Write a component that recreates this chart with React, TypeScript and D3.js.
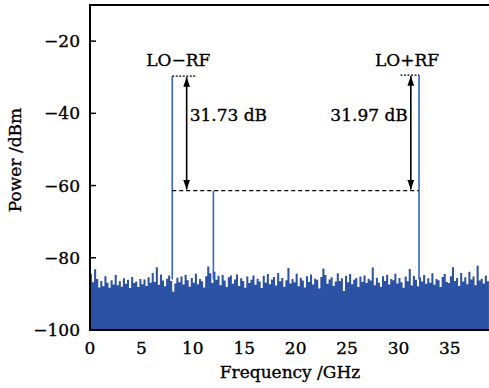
import React from 'react';
import * as d3 from 'd3';

// noise floor, one value every 0.2 GHz from 0 GHz
const noiseStep = 0.2;
const noise = [
  -84.5, -86.8, -83.2, -85.9, -88.2, -86.4, -87.9, -85.1, -86.9, -88.3, -86.2, -87.4, -84.8, -87.6, -86.5,
  -88.0, -85.7, -87.2, -86.1, -88.4, -85.3, -87.0, -86.6, -88.1, -85.9, -87.3, -86.0, -87.8, -85.4, -86.9,
  -84.2, -86.7, -82.6, -87.5, -84.6, -86.3, -87.9, -85.8, -84.9, -86.4, -89.4, -87.1, -85.5, -86.8, -85.2,
  -87.4, -84.7, -86.2, -88.0, -85.6, -86.9, -84.4, -87.3, -85.9, -86.5, -88.2, -85.1, -82.4, -84.3, -87.0,
  -83.9, -86.1, -85.0, -87.6, -84.8, -86.3, -88.1, -85.4, -84.9, -87.2, -86.0, -84.6, -87.8, -85.7, -86.4,
  -88.3, -85.2, -87.0, -86.1, -84.9, -87.5, -85.8, -86.6, -88.4, -85.0, -86.9, -84.5, -87.3, -86.0, -85.3,
  -87.7, -84.2, -86.5, -85.6, -88.0, -86.2, -82.8, -87.1, -85.9, -86.8, -84.4, -87.9, -85.5, -86.3, -88.2,
  -85.1, -86.7, -84.6, -87.4, -85.8, -86.1, -88.5, -85.3, -83.0, -84.8, -87.2, -86.0, -85.4, -87.8, -86.6,
  -84.3, -86.4, -85.7, -89.2, -85.0, -86.8, -84.5, -87.3, -86.1, -85.6, -88.1, -85.2, -86.7, -84.9, -87.0,
  -85.8, -86.3, -82.7, -87.6, -85.5, -86.9, -88.0, -85.1, -86.4, -84.7, -87.4, -85.9, -86.2, -84.4, -87.1,
  -85.6, -86.8, -88.3, -85.2, -86.5, -83.1, -87.7, -85.0, -86.1, -87.9, -85.4, -86.6, -84.8, -87.2, -85.7,
  -86.9, -84.3, -87.5, -85.9, -86.2, -88.1, -85.3, -84.5, -86.7, -87.0, -85.1, -82.6, -86.4, -85.6, -87.8,
  -84.2, -86.6, -85.4, -87.3, -83.9, -86.0, -85.2, -87.6, -82.2, -86.3, -85.8, -87.1, -84.9, -86.5, -85.5,
];

// spectral lines
const peakFreqs = [8, 12, 32];
const peakLevels = [-29.7, -61.4, -29.4];
const peakNames = ['LO\u2212RF', '', 'LO+RF'];

// level marks
const refLevel = -61.4;
const diffLabels = ['31.73 dB', '31.97 dB'];
const arrowFreqs = [9.4, 31.2];

const yTicks = [-20, -40, -60, -80, -100];
const xTicks = [0, 5, 10, 15, 20, 25, 30, 35];

const W = 489;
const H = 388;
const font = '"DejaVu Serif", serif';

export default function App() {
  const x = d3.scaleLinear().domain([0, 39]).range([90, 491]);
  const y = d3.scaleLinear().domain([-100, -10]).range([330, 5]);

  const pts = noise.map((v, i) => [i * noiseStep, v] as [number, number]);
  const area = d3
    .area<[number, number]>()
    .x(d => x(d[0]))
    .y0(y(-100))
    .y1(d => y(d[1]))
    .curve(d3.curveStepAfter);

  const blue = '#2c52a6';
  // slight outline so the serif text looks as heavy as the scan
  const txt = { fontFamily: font, stroke: '#000', strokeWidth: 0.35 };

  return (
    <svg width={W} height={H} style={{ position: 'absolute', left: 0, top: 0, background: '#fff' }}>
      <defs>
        <marker id="ah" viewBox="0 0 10 10" refX="10" refY="5" markerWidth="6" markerHeight="6" orient="auto-start-reverse">
          <path d="M0,1.5 L10,5 L0,8.5 z" fill="#000" />
        </marker>
      </defs>

      <path d={area(pts) || ''} fill={blue} />

      {peakFreqs.map((f, i) => (
        <line key={i} x1={x(f)} x2={x(f)} y1={y(-86)} y2={y(peakLevels[i])} stroke="#3565c8" strokeWidth={1.6} />
      ))}

      {/* dashed reference lines */}
      <line x1={x(peakFreqs[0])} x2={x(peakFreqs[2])} y1={y(refLevel)} y2={y(refLevel)} stroke="#000" strokeWidth={1.3} strokeDasharray="4,3" />
      <line x1={x(peakFreqs[0])} x2={x(10.4)} y1={y(peakLevels[0])} y2={y(peakLevels[0])} stroke="#000" strokeWidth={1.3} strokeDasharray="2,1.5" />
      <line x1={x(30.2)} x2={x(peakFreqs[2])} y1={y(peakLevels[2])} y2={y(peakLevels[2])} stroke="#000" strokeWidth={1.3} strokeDasharray="2,1.5" />

      {arrowFreqs.map((f, i) => (
        <line
          key={i}
          x1={x(f)}
          x2={x(f)}
          y1={y(i === 0 ? peakLevels[0] : peakLevels[2]) + 1}
          y2={y(refLevel) - 1}
          stroke="#000"
          strokeWidth={1.6}
          markerStart="url(#ah)"
          markerEnd="url(#ah)"
        />
      ))}

      <text x={x(arrowFreqs[0]) + 3} y={y(-42)} {...txt} fontSize={17} textAnchor="start">{diffLabels[0]}</text>
      <text x={x(arrowFreqs[1]) - 3} y={y(-42)} {...txt} fontSize={17} textAnchor="end">{diffLabels[1]}</text>

      {peakNames.map((n, i) => n ? (
        <text key={i} x={x(peakFreqs[i]) + (i === 0 ? 6 : -12)} y={66} {...txt} fontSize={17} textAnchor="middle">{n}</text>
      ) : null)}

      {/* axes */}
      <line x1={90} x2={90} y1={5} y2={331} stroke="#000" strokeWidth={2} />
      <line x1={89} x2={W} y1={330} y2={330} stroke="#000" strokeWidth={2} />
      <line x1={89} x2={W} y1={5} y2={5} stroke="#000" strokeWidth={2} />

      {yTicks.map(t => (
        <g key={t}>
          <line x1={90} x2={96} y1={y(t)} y2={y(t)} stroke="#000" strokeWidth={1.5} />
          <text x={80} y={y(t) + 6} {...txt} fontSize={17} textAnchor="end">{t < 0 ? '\u2212' + Math.abs(t) : t}</text>
        </g>
      ))}
      {xTicks.map(t => (
        <text key={t} x={x(t)} y={354} {...txt} fontSize={17} textAnchor="middle">{t}</text>
      ))}

      <text x={290} y={378} {...txt} fontSize={17} textAnchor="middle">Frequency /GHz</text>
      <text transform="translate(21,160) rotate(-90)" {...txt} fontSize={17} textAnchor="middle">Power /dBm</text>
    </svg>
  );
}
